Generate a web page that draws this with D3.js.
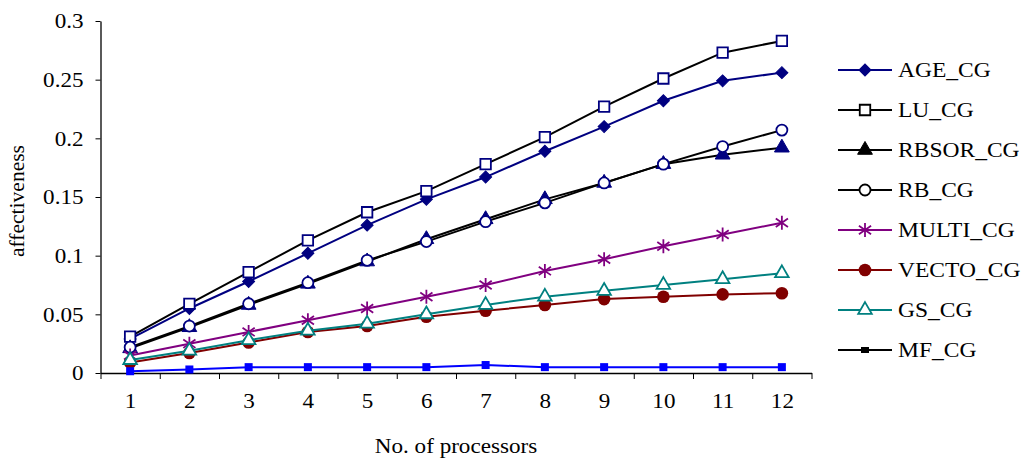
<!DOCTYPE html>
<html>
<head>
<meta charset="utf-8">
<script src="https://cdn.jsdelivr.net/npm/d3@7"></script>
<style>
  body { margin: 0; background: #fff; }
  text { font-family: "Liberation Serif", "Times New Roman", serif; fill: #000; }
</style>
</head>
<body>
<div id="chart"></div>
<script>
// values
const procs = [1, 2, 3, 4, 5, 6, 7, 8, 9, 10, 11, 12]
const yTicks = [0, 0.05, 0.1, 0.15, 0.2, 0.25, 0.3]
const seriesNames = ["AGE_CG", "LU_CG", "RBSOR_CG", "RB_CG", "MULTI_CG", "VECTO_CG", "GS_CG", "MF_CG"]

const ageCG   = [0.029, 0.055, 0.078, 0.102, 0.126, 0.148, 0.167, 0.189, 0.210, 0.232, 0.249, 0.256]
const luCG    = [0.031, 0.059, 0.086, 0.113, 0.137, 0.155, 0.178, 0.201, 0.227, 0.251, 0.273, 0.283]
const rbsorCG = [0.021, 0.039, 0.058, 0.076, 0.095, 0.114, 0.131, 0.148, 0.162, 0.178, 0.186, 0.192]
const rbCG    = [0.022, 0.040, 0.059, 0.077, 0.096, 0.112, 0.129, 0.145, 0.162, 0.178, 0.193, 0.207]
const multiCG = [0.015, 0.025, 0.035, 0.045, 0.055, 0.065, 0.075, 0.087, 0.097, 0.108, 0.118, 0.128]
const vectoCG = [0.009, 0.017, 0.026, 0.035, 0.040, 0.048, 0.053, 0.058, 0.063, 0.065, 0.067, 0.068]
const gsCG    = [0.011, 0.019, 0.028, 0.036, 0.042, 0.050, 0.058, 0.065, 0.070, 0.075, 0.080, 0.085]
const mfCG    = [0.0015, 0.003, 0.005, 0.005, 0.005, 0.005, 0.0068, 0.005, 0.005, 0.005, 0.005, 0.005]

const svgWidth = 1028
const svgHeight = 459
const margin = { top: 21, left: 100.5, right: 216.5, bottom: 86 }
const width = svgWidth - margin.left - margin.right
const height = svgHeight - margin.top - margin.bottom

// line colour, marker shape, marker colour, fill, legend colours
const styles = [
  { vals: ageCG,   line: "#000080", shape: "diamond",  mk: "#000080", fill: true,  lgLine: "#000080", lgMk: "#000080" },
  { vals: luCG,    line: "#000000", shape: "square",   mk: "#000080", fill: false, lgLine: "#000000", lgMk: "#000000" },
  { vals: rbsorCG, line: "#000000", shape: "triangle", mk: "#000080", fill: true,  lgLine: "#000000", lgMk: "#000000" },
  { vals: rbCG,    line: "#000000", shape: "circle",   mk: "#000080", fill: false, lgLine: "#000000", lgMk: "#000000" },
  { vals: multiCG, line: "#800080", shape: "star",     mk: "#800080", fill: false, lgLine: "#800080", lgMk: "#800080" },
  { vals: vectoCG, line: "#800000", shape: "bigcircle",mk: "#800000", fill: true,  lgLine: "#800000", lgMk: "#800000" },
  { vals: gsCG,    line: "#008080", shape: "triangle", mk: "#008080", fill: false, lgLine: "#008080", lgMk: "#008080" },
  { vals: mfCG,    line: "#0000ff", shape: "small",    mk: "#0000ff", fill: true,  lgLine: "#000000", lgMk: "#000000" }
]

// the original text is a little wider than the font draws it
function stretch(sel, k) {
  sel.each(function() {
    const w = this.getComputedTextLength()
    d3.select(this).attr("textLength", w * k).attr("lengthAdjust", "spacingAndGlyphs")
  })
}

const svg = d3.select("#chart").append("svg")
  .attr("width", svgWidth)
  .attr("height", svgHeight)

const chart = svg.append("g")
  .attr("transform", `translate(${margin.left},${margin.top})`)

const x = d3.scaleLinear().domain([0.5, 12.5]).range([0, width])
const y = d3.scaleLinear().domain([0, 0.3]).range([height, 0])

// axes
chart.append("g")
  .attr("transform", `translate(0,${height})`)
  .call(d3.axisBottom(x).tickValues(d3.range(0.5, 13, 1)).tickFormat("").tickSize(6).tickSizeOuter(0))
  .call(g => g.select(".domain").attr("stroke-width", 1.3))

chart.append("g")
  .attr("transform", `translate(0,${height})`)
  .call(d3.axisBottom(x).tickValues(procs).tickSize(0).tickPadding(20))
  .call(g => g.select(".domain").remove())
  .selectAll("text").attr("font-size", 21).attr("font-family", "Liberation Serif")
  .call(stretch, 1.1)

chart.append("g")
  .call(d3.axisLeft(y).tickValues(yTicks).tickFormat(d => +d.toFixed(2)).tickSize(5).tickSizeOuter(0).tickPadding(12))
  .call(g => g.select(".domain").attr("stroke-width", 1.3))
  .selectAll("text").attr("font-size", 21).attr("font-family", "Liberation Serif")
  .call(stretch, 1.1)

chart.append("text")
  .attr("x", width / 2)
  .attr("y", height + 80)
  .attr("text-anchor", "middle")
  .attr("font-size", 21)
  .text("No. of processors")
  .call(stretch, 1.1)

chart.append("text")
  .attr("transform", `translate(${-77},${height / 2 + 4}) rotate(-90)`)
  .attr("text-anchor", "middle")
  .attr("font-size", 22)
  .attr("textLength", 112)
  .attr("lengthAdjust", "spacingAndGlyphs")
  .text("affectiveness")

function marker(sel, shape, color, fill) {
  if (shape == "diamond") {
    sel.append("path").attr("d", d3.symbol(d3.symbolSquare, 72)).attr("transform", "rotate(45)")
      .attr("fill", color).attr("stroke", color)
  } else if (shape == "square") {
    sel.append("path").attr("d", d3.symbol(d3.symbolSquare, 110))
      .attr("fill", "white").attr("stroke", color).attr("stroke-width", 1.8)
  } else if (shape == "triangle") {
    sel.append("path").attr("d", d3.symbol(d3.symbolTriangle, fill ? 95 : 80))
      .attr("fill", fill ? color : "white").attr("stroke", color).attr("stroke-width", fill ? 1 : 1.8)
  } else if (shape == "circle") {
    sel.append("circle").attr("r", 5.5)
      .attr("fill", "white").attr("stroke", color).attr("stroke-width", 1.8)
  } else if (shape == "bigcircle") {
    sel.append("circle").attr("r", 6.3).attr("fill", color)
  } else if (shape == "star") {
    const r = 7
    const p = d3.path()
    p.moveTo(0, -r); p.lineTo(0, r)
    p.moveTo(-r * 0.87, -r * 0.6); p.lineTo(r * 0.87, r * 0.6)
    p.moveTo(-r * 0.87, r * 0.6); p.lineTo(r * 0.87, -r * 0.6)
    sel.append("path").attr("d", p.toString()).attr("stroke", color).attr("stroke-width", 1.8).attr("fill", "none")
  } else if (shape == "small") {
    sel.append("rect").attr("x", -4).attr("y", -4).attr("width", 8).attr("height", 8).attr("fill", color)
  }
}

const line = d3.line()
  .x((d, i) => x(procs[i]))
  .y(d => y(d))

styles.forEach(function(s) {
  chart.append("path")
    .datum(s.vals)
    .attr("fill", "none")
    .attr("stroke", s.line)
    .attr("stroke-width", 2)
    .attr("d", line)

  chart.append("g").selectAll("g")
    .data(s.vals)
    .join("g")
    .attr("transform", (d, i) => `translate(${x(procs[i])},${y(d)})`)
    .each(function() { marker(d3.select(this), s.shape, s.mk, s.fill) })
})

// legend
const legend = svg.append("g").attr("transform", "translate(838,70)")
seriesNames.forEach(function(name, i) {
  const s = styles[i]
  const row = legend.append("g").attr("transform", `translate(0,${i * 40})`)
  row.append("line").attr("x1", 0).attr("x2", 54).attr("stroke", s.lgLine).attr("stroke-width", 2)
  const m = row.append("g").attr("transform", "translate(27,0)")
  if (s.shape == "small") {
    m.append("rect").attr("x", -4).attr("y", -3).attr("width", 8).attr("height", 6).attr("fill", s.lgMk)
  } else {
    marker(m, s.shape, s.lgMk, s.fill)
  }
  row.append("text").attr("x", 60).attr("y", 7).attr("font-size", 21).text(name)
    .call(stretch, 1.12)
})
</script>
</body>
</html>
